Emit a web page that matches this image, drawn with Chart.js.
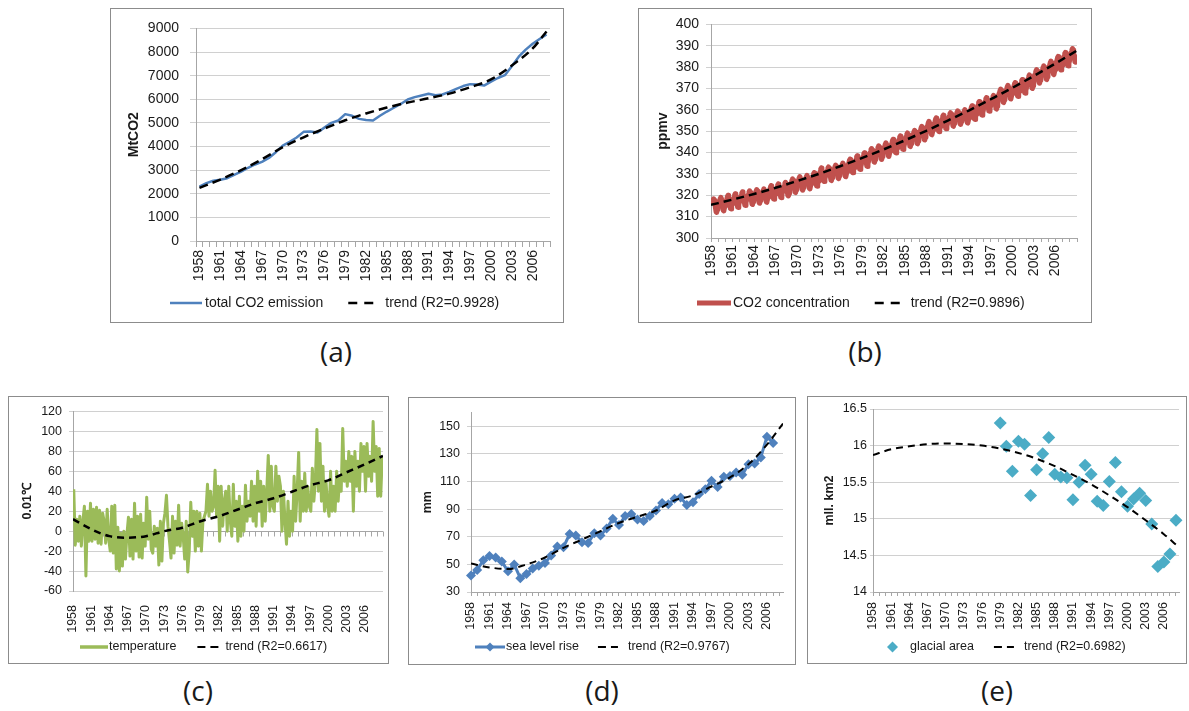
<!DOCTYPE html>
<html>
<head>
<meta charset="utf-8">
<title>CO2 emission, CO2 concentration, temperature, sea level rise and glacial area</title>
<script src="https://cdn.jsdelivr.net/npm/chart.js@4.4.1/dist/chart.umd.min.js"></script>
<style>
  body { margin: 0; background: #fff; width: 1189px; height: 711px; position: relative; overflow: hidden; }
  .panel { position: absolute; box-sizing: border-box; border: 1px solid #8c8c8c; background: #fff; }
  .panel canvas { display: block; }
  .tag { position: absolute; width: 80px; margin-left: -40px; text-align: center; font: 28px "Open Sans", sans-serif; color: #1a1a1a; line-height: 38px; }
</style>
</head>
<body>
<div class="panel" style="left:110px;top:8px;width:454px;height:315px"><canvas id="chartA" width="452" height="313"></canvas></div>
<div class="panel" style="left:638px;top:8px;width:454px;height:315px"><canvas id="chartB" width="452" height="313"></canvas></div>
<div class="panel" style="left:8px;top:396px;width:381px;height:268px"><canvas id="chartC" width="379" height="266"></canvas></div>
<div class="panel" style="left:408px;top:397px;width:388px;height:268px"><canvas id="chartD" width="386" height="266"></canvas></div>
<div class="panel" style="left:807px;top:396px;width:380px;height:268px"><canvas id="chartE" width="378" height="266"></canvas></div>
<div class="tag" style="left:336px;top:332px">(a)</div>
<div class="tag" style="left:865px;top:332px">(b)</div>
<div class="tag" style="left:198px;top:671px">(c)</div>
<div class="tag" style="left:602px;top:671px">(d)</div>
<div class="tag" style="left:997px;top:671px">(e)</div>

<script>
// ==========================
// Data
// ==========================
const years = [
  "1958", "1959", "1960", "1961", "1962", "1963", "1964", "1965", "1966", "1967",
  "1968", "1969", "1970", "1971", "1972", "1973", "1974", "1975", "1976", "1977",
  "1978", "1979", "1980", "1981", "1982", "1983", "1984", "1985", "1986", "1987",
  "1988", "1989", "1990", "1991", "1992", "1993", "1994", "1995", "1996", "1997",
  "1998", "1999", "2000", "2001", "2002", "2003", "2004", "2005", "2006", "2007", "2008"
];
const axisYears = [
  1958, 1959, 1960, 1961, 1962, 1963, 1964, 1965, 1966, 1967, 1968, 1969, 1970,
  1971, 1972, 1973, 1974, 1975, 1976, 1977, 1978, 1979, 1980, 1981, 1982, 1983,
  1984, 1985, 1986, 1987, 1988, 1989, 1990, 1991, 1992, 1993, 1994, 1995, 1996,
  1997, 1998, 1999, 2000, 2001, 2002, 2003, 2004, 2005, 2006, 2007, 2008, 2009
];
const tickLabels = [
  "1958", "1961", "1964", "1967", "1970", "1973", "1976", "1979", "1982",
  "1985", "1988", "1991", "1994", "1997", "2000", "2003", "2006"
];
const trendYears = [
  1958, 1961, 1964, 1967, 1970, 1973, 1976, 1979, 1982,
  1985, 1988, 1991, 1994, 1997, 2000, 2003, 2006
];

// (a) total CO2 emission, MtCO2
const emission = [
  2300, 2450, 2550, 2590, 2660, 2800, 2935, 3100, 3240, 3350,
  3515, 3760, 4040, 4200, 4380, 4620, 4640, 4590, 4800, 5000,
  5100, 5370, 5300, 5170, 5120, 5100, 5300, 5480, 5640, 5800,
  5990, 6090, 6160, 6230, 6170, 6200, 6310, 6440, 6560, 6640,
  6620, 6580, 6750, 6900, 7020, 7400, 7800, 8100, 8350, 8550, 8740
];
const emissionTrend = [2250, 2600, 3000, 3460, 3970, 4390, 4760, 5110, 5400, 5650, 5860, 6040, 6240, 6510, 6840, 7430, 8150];
const emissionTrendEnd = 8870; // value at 2008

// (b) CO2 concentration, ppmv: annual means and the monthly seasonal swing
const co2Annual = [
  315.3, 316.0, 316.9, 317.6, 318.5, 319.0, 319.6, 320.0, 321.4, 322.2,
  323.0, 324.6, 325.7, 326.3, 327.5, 329.7, 330.2, 331.1, 332.0, 333.8,
  335.4, 336.8, 338.8, 340.1, 341.5, 343.1, 344.7, 346.1, 347.4, 349.2,
  351.6, 353.1, 354.4, 355.6, 356.5, 357.1, 358.8, 360.8, 362.6, 363.7,
  366.7, 368.4, 369.6, 371.1, 373.3, 375.8, 377.5, 379.8, 381.9, 383.8, 385.6
];
const co2Seasonal = [0.0, 0.7, 1.4, 2.6, 3.1, 2.4, 0.9, -1.3, -3.1, -3.3, -2.0, -0.9];
const co2Trend = [315.5, 318.0, 320.6, 323.5, 326.7, 330.0, 333.6, 337.4, 341.4, 345.7, 350.2, 355.0, 359.8, 365.0, 370.3, 375.9, 381.7];
const co2TrendEnd = 387.8; // value at 2009

// (c) temperature anomaly, 0.01 degC, four readings per year
const temperature = [
  [42, -14, 12, -10], [15, -15, 10, 25], [-45, 20, -10, 28], [-10, 22, -8, 24], [-12, 21, -13, 18],
  [10, -12, 22, -8], [-20, 25, -22, 26], [-38, 4, -40, -2], [-35, 0, -28, -3], [14, -25, 12, -28],
  [28, -20, 15, -26], [17, -27, 8, -15], [34, -8, 20, -18], [-22, 5, -15, 3], [-34, 10, -30, 8],
  [18, 36, 5, -10], [-27, 15, -22, 10], [-14, 26, -15, 8], [-5, -28, 10, -41], [-20, 29, -5, 20],
  [-20, 20, -15, 18], [-20, 10, 15, 20], [47, 15, 40, 20], [25, 61, 15, 45], [-10, 45, 5, 30],
  [40, 0, 45, 10], [-5, 47, 5, 30], [-10, 35, -5, 25], [0, 46, 10, 30], [15, 50, 10, 45],
  [5, 60, 20, 50], [5, 45, 10, 40], [76, 20, 65, 25], [20, 65, 30, 55], [45, 0, 40, 10],
  [-13, 30, -5, 20], [0, 55, 10, 40], [79, 10, 50, 20], [58, 20, 45, 25], [20, 63, 30, 50],
  [102, 40, 88, 30], [65, 20, 50, 25], [15, 60, 20, 45], [20, 60, 30, 55], [40, 103, 50, 70],
  [45, 80, 50, 75], [20, 80, 45, 70], [40, 88, 60, 85], [40, 88, 55, 75], [50, 110, 60, 85],
  [35, 83, 35, 75]
];
const tempTrend = [12, 2, -5, -6.5, -5, 0, 3.5, 10, 15, 21.5, 28, 33, 39.5, 46, 51, 59, 67];
const tempTrendEnd = 75.5; // value at 2009

// (d) sea level rise, mm, 1958-2007
const seaLevel = [
  42, 46, 53, 56, 55, 52, 45, 50, 40, 43,
  47, 49, 51, 56.5, 63, 62.5, 72, 71, 66, 65.5,
  72.5, 71, 76, 83, 78.5, 85, 86.5, 82.5, 81.5, 85,
  89, 94.5, 93.5, 97.5, 98.5, 93, 95, 101, 104.5, 110.5,
  106, 113.5, 114, 116.5, 115, 122.5, 123, 127.5, 142.5, 138
];
const seaTrend = [50.6, 47.8, 46.6, 50, 55, 62, 68, 74, 80, 84.5, 89, 96.4, 100, 106.4, 113, 122.5, 136.7];
const seaTrendEnd = 152; // value at the right edge

// (e) glacial area, mll. km2, 1979-2008
const glacialYears = [
  1979, 1980, 1981, 1982, 1983, 1984, 1985, 1986, 1987, 1988,
  1989, 1990, 1991, 1992, 1993, 1994, 1995, 1996, 1997, 1998,
  1999, 2000, 2001, 2002, 2003, 2004, 2005, 2006, 2007, 2008
];
const glacialArea = [
  16.31, 15.99, 15.65, 16.06, 16.02, 15.32, 15.67, 15.89, 16.11, 15.61,
  15.57, 15.56, 15.26, 15.50, 15.73, 15.61, 15.24, 15.18, 15.51, 15.77,
  15.37, 15.17, 15.27, 15.35, 15.25, 14.93, 14.35, 14.41, 14.52, 14.98
];
const glacialTrend = [15.87, 15.95, 15.99, 16.02, 16.03, 16.02, 16.0, 15.96, 15.9, 15.82, 15.72, 15.6, 15.47, 15.32, 15.16, 14.98, 14.79];
const glacialTrendEnd = 14.61; // value at the right edge

// ==========================
// Shared look
// ==========================
const FONT = '"Liberation Sans", Arial, sans-serif';
const GRID = "#d0d0d0";
const AXIS = "#a6a6a6";
const TEXT = "#1a1a1a";

Chart.defaults.font.family = FONT;
Chart.defaults.color = TEXT;
Chart.defaults.animation = false;
Chart.defaults.plugins.legend.display = false;
Chart.defaults.plugins.tooltip.enabled = false;

function yAxis(c) {
  return {
    type: "linear", position: "left", min: c.min, max: c.max,
    afterBuildTicks: s => { s.ticks = c.ticks.map(v => ({ value: v })); },
    afterFit: s => { s.width = c.width; },
    grid: { color: GRID, tickLength: c.tickLength },
    border: { display: true, color: AXIS },
    ticks: { padding: c.pad, color: TEXT, font: { size: c.size }, callback: v => String(v) },
    title: {
      display: true, text: c.title, color: TEXT,
      font: { size: c.size, weight: "bold" }, padding: { top: c.titlePad, bottom: 0 }
    }
  };
}

// rotated labels must not squeeze the plot sideways
function fitX(height) {
  return s => { s.height = height; s.paddingLeft = 0; s.paddingRight = 0; };
}

function xLinear(c) {
  return {
    type: "linear", position: "bottom", min: c.min, max: c.max,
    afterBuildTicks: s => { s.ticks = c.ticks.map(v => ({ value: v })); },
    afterFit: fitX(c.height),
    grid: { display: c.marks, drawOnChartArea: false, tickLength: 4, color: AXIS },
    border: { display: c.marks, color: AXIS },
    ticks: {
      autoSkip: false, maxRotation: 90, minRotation: 90, padding: c.pad,
      color: TEXT, font: { size: c.size },
      callback: v => tickLabels.includes(String(v)) ? String(v) : ""
    }
  };
}

function trendPoints(vals, endX, endVal) {
  const pts = trendYears.map((yr, i) => ({ x: yr, y: vals[i] }));
  pts.push({ x: endX, y: endVal });
  return pts;
}

function trendSet(data, width, dash) {
  return {
    data: data, borderColor: "#000", borderWidth: width, borderDash: dash,
    pointRadius: 0, cubicInterpolationMode: "monotone", order: 0
  };
}

// Excel-like legend drawn under the axis
function legendPlugin(lg) {
  return {
    id: "sampleLegend",
    afterDraw(chart) {
      const ctx = chart.ctx;
      ctx.save();
      ctx.font = lg.size + "px " + FONT;
      ctx.textBaseline = "middle";
      let x = lg.x;
      const y = lg.y;
      lg.items.forEach(it => {
        ctx.beginPath();
        if (it.kind === "diamond") {
          const cx = x + it.len / 2, r = it.len / 2;
          ctx.fillStyle = it.color;
          ctx.moveTo(cx - r, y); ctx.lineTo(cx, y - r); ctx.lineTo(cx + r, y); ctx.lineTo(cx, y + r);
          ctx.closePath(); ctx.fill();
        } else {
          ctx.strokeStyle = it.color;
          ctx.lineWidth = it.width;
          ctx.setLineDash(it.dash || []);
          ctx.moveTo(x, y); ctx.lineTo(x + it.len, y);
          ctx.stroke();
          ctx.setLineDash([]);
          if (it.kind === "lineDiamond") {
            const cx = x + it.len / 2, r = 4.5;
            ctx.beginPath();
            ctx.fillStyle = it.color;
            ctx.moveTo(cx - r, y); ctx.lineTo(cx, y - r); ctx.lineTo(cx + r, y); ctx.lineTo(cx, y + r);
            ctx.closePath(); ctx.fill();
          }
        }
        x += it.len + it.gap;
        ctx.fillStyle = TEXT;
        ctx.fillText(it.text, x, y);
        x += ctx.measureText(it.text).width + lg.gap;
      });
      ctx.restore();
    }
  };
}

// horizontal axis crossing at zero, with its tick marks (panel c)
const zeroAxis = {
  id: "zeroAxis",
  beforeDatasetsDraw(chart) {
    const { ctx, chartArea, scales } = chart;
    const y0 = Math.round(scales.y.getPixelForValue(0)) + 0.5;
    ctx.save();
    ctx.strokeStyle = AXIS;
    ctx.lineWidth = 1;
    ctx.beginPath();
    ctx.moveTo(chartArea.left, y0);
    ctx.lineTo(chartArea.right, y0);
    scales.x.ticks.forEach(t => {
      const px = Math.round(scales.x.getPixelForValue(t.value)) + 0.5;
      ctx.moveTo(px, y0);
      ctx.lineTo(px, y0 + 5);
    });
    ctx.stroke();
    ctx.restore();
  }
};

// ==========================
// (a) Total CO2 emission
// ==========================
const emissionTrendData = trendYears.map((yr, i) => ({ x: String(yr), y: emissionTrend[i] }));
emissionTrendData.push({ x: "2008", y: emissionTrendEnd });

new Chart(document.getElementById("chartA"), {
  type: "line",
  data: {
    labels: years,
    datasets: [
      { data: emission, borderColor: "#4f81bd", borderWidth: 2.5, borderJoinStyle: "round", pointRadius: 0, order: 1 },
      trendSet(emissionTrendData, 2.5, [9, 5])
    ]
  },
  options: {
    responsive: false,
    layout: { padding: { left: 0, top: 14, right: 13, bottom: 33 } },
    scales: {
      x: {
        type: "category", offset: true,
        afterFit: fitX(48),
        grid: { offset: true, drawOnChartArea: false, tickLength: 6, color: AXIS },
        border: { color: AXIS },
        ticks: {
          autoSkip: false, maxRotation: 90, minRotation: 90, padding: 3,
          color: TEXT, font: { size: 14 },
          callback: (v, i) => tickLabels.includes(years[i]) ? years[i] : ""
        }
      },
      y: yAxis({ min: 0, max: 9000, ticks: [0, 1000, 2000, 3000, 4000, 5000, 6000, 7000, 8000, 9000],
                 width: 85, tickLength: 6, pad: 11, size: 14, title: "MtCO2", titlePad: 15 })
    }
  },
  plugins: [legendPlugin({ x: 59, y: 294, size: 14, gap: 25, items: [
    { kind: "line", color: "#4f81bd", width: 2.5, len: 32, gap: 3, text: "total CO2 emission" },
    { kind: "dash", color: "#000", width: 2.5, dash: [9, 7], len: 26, gap: 11, text: "trend (R2=0.9928)" }
  ] })]
});

// ==========================
// (b) CO2 concentration (monthly)
// ==========================
const co2Monthly = [];
co2Annual.forEach((mean, i) => {
  co2Seasonal.forEach((s, m) => {
    if (i === 0 && m < 2) return; // record starts in March 1958
    co2Monthly.push({ x: axisYears[i] + (m + 0.5) / 12, y: mean + s });
  });
});

new Chart(document.getElementById("chartB"), {
  type: "line",
  data: {
    datasets: [
      { data: co2Monthly, borderColor: "#c0504d", borderWidth: 5, borderJoinStyle: "round", borderCapStyle: "round", pointRadius: 0, order: 1 },
      trendSet(trendPoints(co2Trend, 2009, co2TrendEnd), 2.5, [8, 5])
    ]
  },
  options: {
    responsive: false,
    parsing: false,
    layout: { padding: { left: 0, top: 14, right: 14, bottom: 33 } },
    scales: {
      x: xLinear({ min: 1958, max: 2009, ticks: axisYears, height: 51, pad: 3, size: 14, marks: true }),
      y: yAxis({ min: 300, max: 400, ticks: [300, 310, 320, 330, 340, 350, 360, 370, 380, 390, 400],
                 width: 72, tickLength: 5, pad: 7, size: 14, title: "ppmv", titlePad: 15.5 })
    }
  },
  plugins: [legendPlugin({ x: 58, y: 294, size: 14, gap: 25, items: [
    { kind: "line", color: "#c0504d", width: 5, len: 34, gap: 2, text: "CO2 concentration" },
    { kind: "dash", color: "#000", width: 2.5, dash: [9, 7], len: 26, gap: 10, text: "trend (R2=0.9896)" }
  ] })]
});

// ==========================
// (c) Temperature
// ==========================
const tempPoints = [];
temperature.forEach((row, i) => {
  row.forEach((v, q) => tempPoints.push({ x: axisYears[i] + (q + 0.5) / 4, y: v }));
});

new Chart(document.getElementById("chartC"), {
  type: "line",
  data: {
    datasets: [
      { data: tempPoints, borderColor: "#9bbb59", borderWidth: 3, borderJoinStyle: "round", pointRadius: 0, order: 1 },
      trendSet(trendPoints(tempTrend, 2009, tempTrendEnd), 2.5, [7, 5])
    ]
  },
  options: {
    responsive: false,
    parsing: false,
    layout: { padding: { left: 0, top: 11, right: 5, bottom: 24 } },
    scales: {
      x: xLinear({ min: 1958, max: 2009, ticks: axisYears, height: 48, pad: 10, size: 12.5, marks: false }),
      y: yAxis({ min: -60, max: 120, ticks: [-60, -40, -20, 0, 20, 40, 60, 80, 100, 120],
                 width: 64, tickLength: 4, pad: 7, size: 12.5, title: "0.01\u2103", titlePad: 11.5 })
    }
  },
  plugins: [zeroAxis, legendPlugin({ x: 71, y: 250, size: 12.5, gap: 21, items: [
    { kind: "line", color: "#9bbb59", width: 3.5, len: 28, gap: 1, text: "temperature" },
    { kind: "dash", color: "#000", width: 2, dash: [8, 5], len: 21, gap: 7, text: "trend (R2=0.6617)" }
  ] })]
});

// ==========================
// (d) Sea level rise
// ==========================
new Chart(document.getElementById("chartD"), {
  type: "line",
  data: {
    datasets: [
      {
        data: seaLevel.map((v, i) => ({ x: axisYears[i], y: v })),
        borderColor: "#4f81bd", borderWidth: 3, borderJoinStyle: "round", pointStyle: "rectRot", pointRadius: 5,
        pointBackgroundColor: "#4f81bd", pointBorderWidth: 0, clip: false, order: 1
      },
      trendSet(trendPoints(seaTrend, 2008.6, seaTrendEnd), 2, [7, 5])
    ]
  },
  options: {
    responsive: false,
    parsing: false,
    layout: { padding: { left: 0, top: 10, right: 12, bottom: 24 } },
    scales: {
      x: xLinear({ min: 1958, max: 2008.6, ticks: axisYears.slice(0, 51), height: 48, pad: 6, size: 12.5, marks: true }),
      y: yAxis({ min: 30, max: 160, ticks: [30, 50, 70, 90, 110, 130, 150],
                 width: 62, tickLength: 4, pad: 7, size: 12.5, title: "mm", titlePad: 11.5 })
    }
  },
  plugins: [legendPlugin({ x: 66, y: 249, size: 12.5, gap: 19, items: [
    { kind: "lineDiamond", color: "#4f81bd", width: 3, len: 30, gap: 1, text: "sea level rise" },
    { kind: "dash", color: "#000", width: 2, dash: [8, 5], len: 20, gap: 10, text: "trend (R2=0.9767)" }
  ] })]
});

// ==========================
// (e) Glacial area
// ==========================
new Chart(document.getElementById("chartE"), {
  type: "line",
  data: {
    datasets: [
      {
        data: glacialArea.map((v, i) => ({ x: glacialYears[i], y: v })),
        showLine: false, pointStyle: "rectRot", pointRadius: 6.5,
        pointBackgroundColor: "#4bacc6", pointBorderWidth: 0, borderColor: "#4bacc6", clip: false, order: 1
      },
      trendSet(trendPoints(glacialTrend, 2008.5, glacialTrendEnd), 2, [7, 5])
    ]
  },
  options: {
    responsive: false,
    parsing: false,
    layout: { padding: { left: 0, top: 12, right: 7, bottom: 23 } },
    scales: {
      x: xLinear({ min: 1958, max: 2008.5, ticks: axisYears.slice(0, 51), height: 48, pad: 6, size: 12.5, marks: true }),
      y: yAxis({ min: 14, max: 16.5, ticks: [14, 14.5, 15, 15.5, 16, 16.5],
                 width: 65, tickLength: 3, pad: 3, size: 12.5, title: "mll. km2", titlePad: 14.5 })
    }
  },
  plugins: [legendPlugin({ x: 79, y: 250, size: 12.5, gap: 20, items: [
    { kind: "diamond", color: "#4bacc6", len: 11, gap: 12, text: "glacial area" },
    { kind: "dash", color: "#000", width: 2, dash: [8, 5], len: 20, gap: 10, text: "trend (R2=0.6982)" }
  ] })]
});
</script>
</body>
</html>
